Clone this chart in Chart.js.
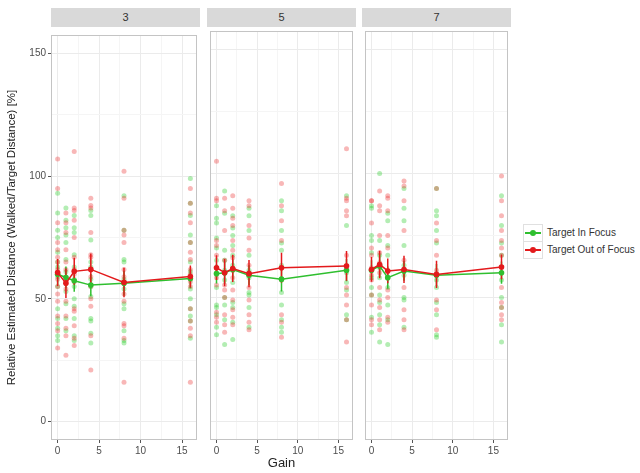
<!DOCTYPE html>
<html>
<head>
<meta charset="utf-8">
<script src="https://cdn.jsdelivr.net/npm/chart.js@4/dist/chart.umd.min.js"></script>
<style>
  body { margin: 0; background: #fff; font-family: "Liberation Sans", Arial, sans-serif; }
  #wrap { position: relative; width: 640px; height: 473px; overflow: hidden; }
  canvas { position: absolute; top: 27px; }
  .strip { position: absolute; top: 8px; height: 19px; background: #d9d9d9; color: #333;
           font-size: 11px; line-height: 19px; text-align: center; }
  #legend { position: absolute; left: 523px; top: 224px; font-size: 10px; color: #333; }
  .row { height: 17px; display: flex; align-items: center; }
  .key { position: relative; width: 18px; height: 16px; border: 1px solid #e0e0e0; margin-right: 4px; }
  .key .ln { position: absolute; left: 1px; right: 1px; top: 7px; height: 2px; }
  .key .dot { position: absolute; left: 6px; top: 5px; width: 6px; height: 6px; border-radius: 3px; }
</style>
</head>
<body>
<div id="wrap">
  <div class="strip" style="left:51px;width:149px">3</div>
  <div class="strip" style="left:207px;width:149px">5</div>
  <div class="strip" style="left:362px;width:149px">7</div>
  <canvas id="p3" width="201" height="446" style="left:0px"></canvas>
  <canvas id="p5" width="151" height="446" style="left:206px"></canvas>
  <canvas id="p7" width="151" height="446" style="left:361px"></canvas>
  <div id="legend">
    <div class="row"><div class="key"><div class="ln" style="background:#2fbf2f"></div><div class="dot" style="background:#2fbf2f"></div></div>Target In Focus</div>
    <div class="row"><div class="key"><div class="ln" style="background:#e31a1c"></div><div class="dot" style="background:#e31a1c"></div></div>Target Out of Focus</div>
  </div>
</div>
<script>
const gains = [0, 1, 2, 4, 8, 16];
const xMajor = [0, 5, 10, 15];
const xMinor = [2.5, 7.5, 12.5];
const yMajor = [0, 50, 100, 150];
const yMinor = [25, 75, 125];

// raw responses per gain, panel "3"
const in3 = [
  [93, 85, 78, 75, 69, 65, 63, 59, 55, 46, 42, 38, 35, 33],
  [87, 82, 79, 76, 73, 66, 61, 59, 53, 48, 42, 37],
  [84, 79, 77, 68, 63, 58, 55, 50, 47, 42, 35, 33],
  [86, 84, 74, 65, 63, 58, 55, 51, 42, 41, 36, 32],
  [92, 78, 66, 65, 58, 54, 48, 46, 37, 33, 32],
  [99, 89, 84, 76, 73, 65, 61, 58, 54, 50, 46, 43, 41, 34]
];
const out3 = [
  [107, 95, 81, 73, 70, 67, 65, 62, 58, 55, 52, 49, 43, 40, 37, 30],
  [85, 81, 77, 70, 65, 62, 57, 54, 49, 43, 38, 35, 27],
  [110, 87, 86, 82, 75, 67, 62, 60, 57, 46, 45, 39, 34, 31],
  [91, 88, 87, 77, 68, 67, 62, 59, 55, 50, 47, 35, 21],
  [102, 91, 78, 76, 73, 62, 59, 57, 52, 49, 40, 39, 34, 16],
  [95, 89, 85, 81, 73, 69, 66, 62, 60, 57, 55, 46, 41, 38, 35, 16]
];
// panel "5"
const in5 = [
  [87, 82, 80, 74, 70, 65, 62, 60, 54, 47, 46, 43, 38, 35],
  [93, 84, 69, 65, 61, 60, 57, 50, 47, 41, 31],
  [83, 78, 75, 71, 67, 63, 61, 56, 48, 46, 40, 33],
  [86, 83, 77, 67, 61, 60, 58, 52, 51, 46, 38],
  [89, 85, 77, 72, 69, 63, 57, 52, 47, 41, 38, 36],
  [91, 79, 61, 60, 56, 53, 43, 41]
];
const out5 = [
  [105, 90, 89, 73, 71, 67, 62, 58, 55, 44, 42, 40],
  [90, 85, 77, 65, 60, 55, 53, 50, 43, 39, 36],
  [91, 86, 82, 79, 73, 69, 66, 61, 58, 53, 49, 45, 42, 39],
  [89, 87, 79, 74, 69, 63, 60, 54, 49, 43, 40, 37],
  [96, 87, 81, 73, 62, 57, 43, 40, 34],
  [110, 90, 89, 85, 83, 67, 63, 54, 51, 47, 41, 32]
];
// panel "7"
const in7 = [
  [87, 86, 75, 73, 68, 61, 58, 54, 51, 42, 36],
  [100, 73, 67, 62, 58, 51, 48, 43, 39, 32],
  [84, 81, 71, 67, 58, 54, 47, 41, 31],
  [94, 86, 81, 71, 63, 59, 50, 49, 38],
  [94, 85, 83, 77, 72, 57, 54, 48, 43, 35, 34],
  [91, 79, 72, 67, 60, 57, 50, 46, 39, 32]
];
const out7 = [
  [89, 89, 80, 70, 67, 62, 59, 57, 51, 47, 41, 39],
  [93, 87, 85, 75, 68, 64, 60, 54, 49, 46, 41, 37],
  [91, 90, 85, 75, 70, 61, 53, 50, 42, 40],
  [97, 95, 89, 77, 65, 61, 54, 45, 41, 37],
  [94, 80, 73, 67, 61, 59, 49, 45, 37],
  [99, 89, 83, 77, 73, 70, 67, 62, 54, 48, 46, 43, 41]
];

// means and error half-widths
const meanIn3 = [60, 58.7, 57.4, 55.6, 56.4, 58.3];
const meanOut3 = [60.7, 56.4, 61.2, 62, 56.7, 59.1];
const meanIn5 = [59.6, 60, 61.3, 59, 57.4, 61];
const meanOut5 = [62, 60, 61.7, 59.6, 62, 62.7];
const meanIn7 = [61, 62.7, 58, 60.7, 59, 60];
const meanOut7 = [61.3, 63.3, 60.7, 61.3, 59.3, 62.3];
const errIn3 = [4, 4.5, 4.5, 4.5, 5, 4];
const errOut3 = [5.5, 6, 5.5, 6.5, 6, 4.5];
const errIn5 = [4, 4.5, 4, 4, 5, 4.5];
const errOut5 = [5, 5.5, 5.5, 5.5, 6, 6];
const errIn7 = [4, 4.5, 4.5, 4, 4.5, 4.5];
const errOut7 = [5, 5.5, 5, 5.5, 5.5, 5];

const GREEN = "#2fbf2f", RED = "#e31a1c";
Chart.defaults.font.family = '"Liberation Sans", Arial, sans-serif';

function rawPoints(arr) {
  const pts = [];
  gains.forEach((g, i) => arr[i].forEach(v => pts.push({ x: g, y: v })));
  return pts;
}
function meanPoints(m) {
  return gains.map((g, i) => ({ x: g, y: m[i] }));
}
function errPoints(m, e) {
  const pts = [];
  gains.forEach((g, i) => {
    pts.push({ x: g, y: m[i] - e[i] }, { x: g, y: m[i] + e[i] }, { x: g, y: null });
  });
  return pts;
}
function setTicks(major, minor) {
  return scale => {
    scale.ticks = major.concat(minor).sort((a, b) => a - b).map(v => ({ value: v }));
  };
}

const panelBox = {
  id: "panelBox",
  afterDraw(chart) {
    const a = chart.chartArea, ctx = chart.ctx;
    ctx.save();
    ctx.strokeStyle = "#c4c4c4";
    ctx.lineWidth = 1;
    ctx.strokeRect(a.left + 0.5, a.top + 0.5, a.right - a.left - 1, a.bottom - a.top - 1);
    ctx.restore();
  }
};

function makePanel(id, inArr, outArr, mIn, mOut, eIn, eOut, first, middle) {
  new Chart(document.getElementById(id), {
    type: "scatter",
    data: {
      datasets: [
        { data: meanPoints(mOut), showLine: true, borderColor: RED, backgroundColor: RED,
          borderWidth: 1.5, pointRadius: 2.8, pointBorderWidth: 0, order: 0 },
        { data: meanPoints(mIn), showLine: true, borderColor: GREEN, backgroundColor: GREEN,
          borderWidth: 1.5, pointRadius: 2.8, pointBorderWidth: 0, order: 1 },
        { data: errPoints(mOut, eOut), showLine: true, borderColor: RED, borderWidth: 1.5,
          pointRadius: 0, spanGaps: false, order: 2 },
        { data: errPoints(mIn, eIn), showLine: true, borderColor: GREEN, borderWidth: 1.5,
          pointRadius: 0, spanGaps: false, order: 3 },
        { data: rawPoints(outArr), backgroundColor: "rgba(235,35,35,0.33)", pointRadius: 2.5,
          pointBorderWidth: 0, order: 4 },
        { data: rawPoints(inArr), backgroundColor: "rgba(25,200,25,0.33)", pointRadius: 2.5,
          pointBorderWidth: 0, order: 5 }
      ]
    },
    options: {
      responsive: false,
      animation: false,
      devicePixelRatio: 1,
      layout: { padding: { left: first ? 0 : 1, right: 1, top: 1, bottom: 0 } },
      plugins: { legend: { display: false }, tooltip: { enabled: false } },
      scales: {
        x: {
          type: "linear", min: -0.8, max: 16.8,
          afterBuildTicks: setTicks(xMajor, xMinor),
          afterFit: s => { s.height = 33; },
          border: { display: false },
          grid: {
            color: c => xMinor.includes(c.tick.value) ? "#f5f5f5" : "#ebebeb",
            tickColor: c => xMinor.includes(c.tick.value) ? "rgba(0,0,0,0)" : "#555",
            tickLength: 3
          },
          ticks: {
            autoSkip: false, maxRotation: 0, padding: 2, color: "#4d4d4d", font: { size: 10 },
            callback: v => xMinor.includes(v) ? "" : String(v)
          },
          title: {
            display: middle, text: "Gain", color: "#222", font: { size: 13 },
            padding: { top: 0, bottom: 2 }
          }
        },
        y: {
          type: "linear", min: -7.5, max: 157.5,
          afterBuildTicks: setTicks(yMajor, yMinor),
          afterFit: s => { s.width = first ? 51 : 0; },
          border: { display: false },
          grid: {
            color: c => yMinor.includes(c.tick.value) ? "#f5f5f5" : "#ebebeb",
            tickColor: c => yMinor.includes(c.tick.value) ? "rgba(0,0,0,0)" : "#555",
            tickLength: 3,
            drawTicks: first
          },
          ticks: {
            display: first, autoSkip: false, padding: 2, color: "#4d4d4d", font: { size: 10 },
            callback: v => yMinor.includes(v) ? "" : String(v)
          },
          title: {
            display: first, text: "Relative Estimated Distance (Walked/Target Distance) [%]",
            color: "#222", font: { size: 11.5 }, padding: { top: 5, bottom: 0 }
          }
        }
      }
    },
    plugins: [panelBox]
  });
}

makePanel("p3", in3, out3, meanIn3, meanOut3, errIn3, errOut3, true, false);
makePanel("p5", in5, out5, meanIn5, meanOut5, errIn5, errOut5, false, true);
makePanel("p7", in7, out7, meanIn7, meanOut7, errIn7, errOut7, false, false);
</script>
</body>
</html>
